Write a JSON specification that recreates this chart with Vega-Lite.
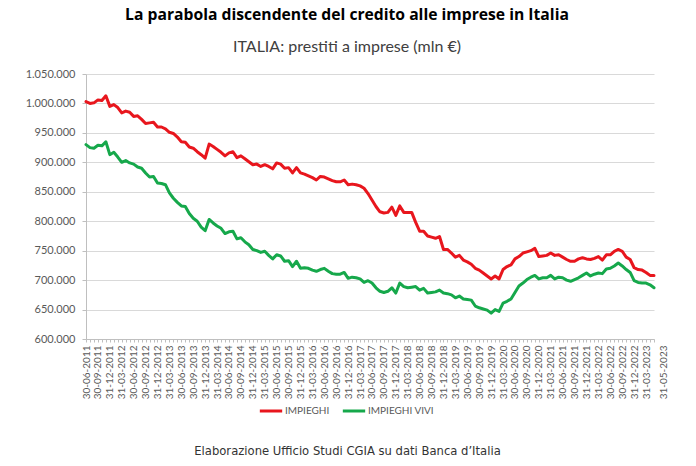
{
  "$schema": "https://vega.github.io/schema/vega-lite/v6.json",
  "width": 568,
  "height": 265,
  "autosize": {"type": "none"},
  "padding": {"left": 86, "top": 74, "right": 42, "bottom": 127},
  "background": "white",
  "config": {
    "view": {"stroke": null},
    "locale": {"number": {"decimal": ",", "thousands": ".", "grouping": [3], "currency": ["€", ""]}}
  },
  "title": {
    "text": "La parabola discendente del credito alle imprese in Italia",
    "subtitle": "ITALIA: prestiti a imprese (mln €)",
    "anchor": "middle",
    "frame": "group",
    "dx": -23,
    "offset": 12,
    "font": "Open Sans",
    "fontSize": 15.7,
    "fontWeight": "bold",
    "color": "#000000",
    "subtitleFont": "Lato",
    "subtitleFontSize": 16,
    "subtitleColor": "#404040",
    "subtitlePadding": 15
  },
  "data": {
    "values": [
      {"d": "30-06-2011", "IMPIEGHI": 1003000, "IMPIEGHI VIVI": 930000},
      {"d": "31-07-2011", "IMPIEGHI": 1000000, "IMPIEGHI VIVI": 925000},
      {"d": "31-08-2011", "IMPIEGHI": 1001000, "IMPIEGHI VIVI": 924000},
      {"d": "30-09-2011", "IMPIEGHI": 1006000, "IMPIEGHI VIVI": 929000},
      {"d": "31-10-2011", "IMPIEGHI": 1005000, "IMPIEGHI VIVI": 928000},
      {"d": "30-11-2011", "IMPIEGHI": 1013000, "IMPIEGHI VIVI": 935000},
      {"d": "31-12-2011", "IMPIEGHI": 995000, "IMPIEGHI VIVI": 913000},
      {"d": "31-01-2012", "IMPIEGHI": 998000, "IMPIEGHI VIVI": 917000},
      {"d": "29-02-2012", "IMPIEGHI": 993000, "IMPIEGHI VIVI": 909000},
      {"d": "31-03-2012", "IMPIEGHI": 984000, "IMPIEGHI VIVI": 900000},
      {"d": "30-04-2012", "IMPIEGHI": 987000, "IMPIEGHI VIVI": 903000},
      {"d": "31-05-2012", "IMPIEGHI": 985000, "IMPIEGHI VIVI": 899000},
      {"d": "30-06-2012", "IMPIEGHI": 978000, "IMPIEGHI VIVI": 897000},
      {"d": "31-07-2012", "IMPIEGHI": 979000, "IMPIEGHI VIVI": 892000},
      {"d": "31-08-2012", "IMPIEGHI": 973000, "IMPIEGHI VIVI": 890000},
      {"d": "30-09-2012", "IMPIEGHI": 966000, "IMPIEGHI VIVI": 882000},
      {"d": "31-10-2012", "IMPIEGHI": 967000, "IMPIEGHI VIVI": 875000},
      {"d": "30-11-2012", "IMPIEGHI": 968000, "IMPIEGHI VIVI": 876000},
      {"d": "31-12-2012", "IMPIEGHI": 960000, "IMPIEGHI VIVI": 865000},
      {"d": "31-01-2013", "IMPIEGHI": 960000, "IMPIEGHI VIVI": 864000},
      {"d": "28-02-2013", "IMPIEGHI": 957000, "IMPIEGHI VIVI": 862000},
      {"d": "31-03-2013", "IMPIEGHI": 951000, "IMPIEGHI VIVI": 848000},
      {"d": "30-04-2013", "IMPIEGHI": 949000, "IMPIEGHI VIVI": 839000},
      {"d": "31-05-2013", "IMPIEGHI": 943000, "IMPIEGHI VIVI": 832000},
      {"d": "30-06-2013", "IMPIEGHI": 935000, "IMPIEGHI VIVI": 826000},
      {"d": "31-07-2013", "IMPIEGHI": 934000, "IMPIEGHI VIVI": 825000},
      {"d": "31-08-2013", "IMPIEGHI": 926000, "IMPIEGHI VIVI": 813000},
      {"d": "30-09-2013", "IMPIEGHI": 924000, "IMPIEGHI VIVI": 805000},
      {"d": "31-10-2013", "IMPIEGHI": 918000, "IMPIEGHI VIVI": 800000},
      {"d": "30-11-2013", "IMPIEGHI": 913000, "IMPIEGHI VIVI": 790000},
      {"d": "31-12-2013", "IMPIEGHI": 907000, "IMPIEGHI VIVI": 784000},
      {"d": "31-01-2014", "IMPIEGHI": 931000, "IMPIEGHI VIVI": 803000},
      {"d": "28-02-2014", "IMPIEGHI": 927000, "IMPIEGHI VIVI": 797000},
      {"d": "31-03-2014", "IMPIEGHI": 922000, "IMPIEGHI VIVI": 792000},
      {"d": "30-04-2014", "IMPIEGHI": 917000, "IMPIEGHI VIVI": 788000},
      {"d": "31-05-2014", "IMPIEGHI": 911000, "IMPIEGHI VIVI": 779000},
      {"d": "30-06-2014", "IMPIEGHI": 916000, "IMPIEGHI VIVI": 782000},
      {"d": "31-07-2014", "IMPIEGHI": 918000, "IMPIEGHI VIVI": 783000},
      {"d": "31-08-2014", "IMPIEGHI": 908000, "IMPIEGHI VIVI": 770000},
      {"d": "30-09-2014", "IMPIEGHI": 911000, "IMPIEGHI VIVI": 772000},
      {"d": "31-10-2014", "IMPIEGHI": 906000, "IMPIEGHI VIVI": 765000},
      {"d": "30-11-2014", "IMPIEGHI": 901000, "IMPIEGHI VIVI": 760000},
      {"d": "31-12-2014", "IMPIEGHI": 896000, "IMPIEGHI VIVI": 752000},
      {"d": "31-01-2015", "IMPIEGHI": 897000, "IMPIEGHI VIVI": 750000},
      {"d": "28-02-2015", "IMPIEGHI": 893000, "IMPIEGHI VIVI": 747000},
      {"d": "31-03-2015", "IMPIEGHI": 896000, "IMPIEGHI VIVI": 749000},
      {"d": "30-04-2015", "IMPIEGHI": 893000, "IMPIEGHI VIVI": 742000},
      {"d": "31-05-2015", "IMPIEGHI": 889000, "IMPIEGHI VIVI": 736000},
      {"d": "30-06-2015", "IMPIEGHI": 899000, "IMPIEGHI VIVI": 743000},
      {"d": "31-07-2015", "IMPIEGHI": 897000, "IMPIEGHI VIVI": 741000},
      {"d": "31-08-2015", "IMPIEGHI": 890000, "IMPIEGHI VIVI": 732000},
      {"d": "30-09-2015", "IMPIEGHI": 891000, "IMPIEGHI VIVI": 733000},
      {"d": "31-10-2015", "IMPIEGHI": 882000, "IMPIEGHI VIVI": 723000},
      {"d": "30-11-2015", "IMPIEGHI": 891000, "IMPIEGHI VIVI": 732000},
      {"d": "31-12-2015", "IMPIEGHI": 882000, "IMPIEGHI VIVI": 720000},
      {"d": "31-01-2016", "IMPIEGHI": 880000, "IMPIEGHI VIVI": 721000},
      {"d": "29-02-2016", "IMPIEGHI": 877000, "IMPIEGHI VIVI": 720000},
      {"d": "31-03-2016", "IMPIEGHI": 874000, "IMPIEGHI VIVI": 717000},
      {"d": "30-04-2016", "IMPIEGHI": 870000, "IMPIEGHI VIVI": 715000},
      {"d": "31-05-2016", "IMPIEGHI": 876000, "IMPIEGHI VIVI": 718000},
      {"d": "30-06-2016", "IMPIEGHI": 875000, "IMPIEGHI VIVI": 720000},
      {"d": "31-07-2016", "IMPIEGHI": 872000, "IMPIEGHI VIVI": 715000},
      {"d": "31-08-2016", "IMPIEGHI": 869000, "IMPIEGHI VIVI": 711000},
      {"d": "30-09-2016", "IMPIEGHI": 867000, "IMPIEGHI VIVI": 710000},
      {"d": "31-10-2016", "IMPIEGHI": 867000, "IMPIEGHI VIVI": 710000},
      {"d": "30-11-2016", "IMPIEGHI": 870000, "IMPIEGHI VIVI": 713000},
      {"d": "31-12-2016", "IMPIEGHI": 862000, "IMPIEGHI VIVI": 703000},
      {"d": "31-01-2017", "IMPIEGHI": 863000, "IMPIEGHI VIVI": 705000},
      {"d": "28-02-2017", "IMPIEGHI": 862000, "IMPIEGHI VIVI": 704000},
      {"d": "31-03-2017", "IMPIEGHI": 860000, "IMPIEGHI VIVI": 702000},
      {"d": "30-04-2017", "IMPIEGHI": 856000, "IMPIEGHI VIVI": 696000},
      {"d": "31-05-2017", "IMPIEGHI": 847000, "IMPIEGHI VIVI": 699000},
      {"d": "30-06-2017", "IMPIEGHI": 836000, "IMPIEGHI VIVI": 695000},
      {"d": "31-07-2017", "IMPIEGHI": 825000, "IMPIEGHI VIVI": 687000},
      {"d": "31-08-2017", "IMPIEGHI": 816000, "IMPIEGHI VIVI": 681000},
      {"d": "30-09-2017", "IMPIEGHI": 814000, "IMPIEGHI VIVI": 679000},
      {"d": "31-10-2017", "IMPIEGHI": 815000, "IMPIEGHI VIVI": 681000},
      {"d": "30-11-2017", "IMPIEGHI": 824000, "IMPIEGHI VIVI": 687000},
      {"d": "31-12-2017", "IMPIEGHI": 810000, "IMPIEGHI VIVI": 678000},
      {"d": "31-01-2018", "IMPIEGHI": 826000, "IMPIEGHI VIVI": 695000},
      {"d": "28-02-2018", "IMPIEGHI": 815000, "IMPIEGHI VIVI": 689000},
      {"d": "31-03-2018", "IMPIEGHI": 815000, "IMPIEGHI VIVI": 687000},
      {"d": "30-04-2018", "IMPIEGHI": 815000, "IMPIEGHI VIVI": 688000},
      {"d": "31-05-2018", "IMPIEGHI": 798000, "IMPIEGHI VIVI": 689000},
      {"d": "30-06-2018", "IMPIEGHI": 783000, "IMPIEGHI VIVI": 683000},
      {"d": "31-07-2018", "IMPIEGHI": 783000, "IMPIEGHI VIVI": 686000},
      {"d": "31-08-2018", "IMPIEGHI": 775000, "IMPIEGHI VIVI": 678000},
      {"d": "30-09-2018", "IMPIEGHI": 773000, "IMPIEGHI VIVI": 679000},
      {"d": "31-10-2018", "IMPIEGHI": 771000, "IMPIEGHI VIVI": 680000},
      {"d": "30-11-2018", "IMPIEGHI": 774000, "IMPIEGHI VIVI": 683000},
      {"d": "31-12-2018", "IMPIEGHI": 752000, "IMPIEGHI VIVI": 678000},
      {"d": "31-01-2019", "IMPIEGHI": 752000, "IMPIEGHI VIVI": 677000},
      {"d": "28-02-2019", "IMPIEGHI": 746000, "IMPIEGHI VIVI": 675000},
      {"d": "31-03-2019", "IMPIEGHI": 739000, "IMPIEGHI VIVI": 670000},
      {"d": "30-04-2019", "IMPIEGHI": 742000, "IMPIEGHI VIVI": 673000},
      {"d": "31-05-2019", "IMPIEGHI": 734000, "IMPIEGHI VIVI": 668000},
      {"d": "30-06-2019", "IMPIEGHI": 731000, "IMPIEGHI VIVI": 667000},
      {"d": "31-07-2019", "IMPIEGHI": 727000, "IMPIEGHI VIVI": 666000},
      {"d": "31-08-2019", "IMPIEGHI": 720000, "IMPIEGHI VIVI": 656000},
      {"d": "30-09-2019", "IMPIEGHI": 717000, "IMPIEGHI VIVI": 653000},
      {"d": "31-10-2019", "IMPIEGHI": 712000, "IMPIEGHI VIVI": 651000},
      {"d": "30-11-2019", "IMPIEGHI": 707000, "IMPIEGHI VIVI": 649000},
      {"d": "31-12-2019", "IMPIEGHI": 702000, "IMPIEGHI VIVI": 644000},
      {"d": "31-01-2020", "IMPIEGHI": 707000, "IMPIEGHI VIVI": 650000},
      {"d": "29-02-2020", "IMPIEGHI": 702000, "IMPIEGHI VIVI": 647000},
      {"d": "31-03-2020", "IMPIEGHI": 718000, "IMPIEGHI VIVI": 661000},
      {"d": "30-04-2020", "IMPIEGHI": 723000, "IMPIEGHI VIVI": 664000},
      {"d": "31-05-2020", "IMPIEGHI": 726000, "IMPIEGHI VIVI": 668000},
      {"d": "30-06-2020", "IMPIEGHI": 736000, "IMPIEGHI VIVI": 679000},
      {"d": "31-07-2020", "IMPIEGHI": 740000, "IMPIEGHI VIVI": 690000},
      {"d": "31-08-2020", "IMPIEGHI": 746000, "IMPIEGHI VIVI": 695000},
      {"d": "30-09-2020", "IMPIEGHI": 748000, "IMPIEGHI VIVI": 701000},
      {"d": "31-10-2020", "IMPIEGHI": 750000, "IMPIEGHI VIVI": 705000},
      {"d": "30-11-2020", "IMPIEGHI": 754000, "IMPIEGHI VIVI": 708000},
      {"d": "31-12-2020", "IMPIEGHI": 740000, "IMPIEGHI VIVI": 702000},
      {"d": "31-01-2021", "IMPIEGHI": 741000, "IMPIEGHI VIVI": 704000},
      {"d": "28-02-2021", "IMPIEGHI": 742000, "IMPIEGHI VIVI": 704000},
      {"d": "31-03-2021", "IMPIEGHI": 746000, "IMPIEGHI VIVI": 708000},
      {"d": "30-04-2021", "IMPIEGHI": 742000, "IMPIEGHI VIVI": 702000},
      {"d": "31-05-2021", "IMPIEGHI": 743000, "IMPIEGHI VIVI": 705000},
      {"d": "30-06-2021", "IMPIEGHI": 739000, "IMPIEGHI VIVI": 704000},
      {"d": "31-07-2021", "IMPIEGHI": 735000, "IMPIEGHI VIVI": 700000},
      {"d": "31-08-2021", "IMPIEGHI": 732000, "IMPIEGHI VIVI": 698000},
      {"d": "30-09-2021", "IMPIEGHI": 732000, "IMPIEGHI VIVI": 701000},
      {"d": "31-10-2021", "IMPIEGHI": 736000, "IMPIEGHI VIVI": 704000},
      {"d": "30-11-2021", "IMPIEGHI": 738000, "IMPIEGHI VIVI": 708000},
      {"d": "31-12-2021", "IMPIEGHI": 736000, "IMPIEGHI VIVI": 712000},
      {"d": "31-01-2022", "IMPIEGHI": 735000, "IMPIEGHI VIVI": 707000},
      {"d": "28-02-2022", "IMPIEGHI": 737000, "IMPIEGHI VIVI": 710000},
      {"d": "31-03-2022", "IMPIEGHI": 740000, "IMPIEGHI VIVI": 712000},
      {"d": "30-04-2022", "IMPIEGHI": 734000, "IMPIEGHI VIVI": 711000},
      {"d": "31-05-2022", "IMPIEGHI": 743000, "IMPIEGHI VIVI": 719000},
      {"d": "30-06-2022", "IMPIEGHI": 743000, "IMPIEGHI VIVI": 720000},
      {"d": "31-07-2022", "IMPIEGHI": 749000, "IMPIEGHI VIVI": 724000},
      {"d": "31-08-2022", "IMPIEGHI": 752000, "IMPIEGHI VIVI": 729000},
      {"d": "30-09-2022", "IMPIEGHI": 749000, "IMPIEGHI VIVI": 724000},
      {"d": "31-10-2022", "IMPIEGHI": 739000, "IMPIEGHI VIVI": 718000},
      {"d": "30-11-2022", "IMPIEGHI": 735000, "IMPIEGHI VIVI": 713000},
      {"d": "31-12-2022", "IMPIEGHI": 721000, "IMPIEGHI VIVI": 699000},
      {"d": "31-01-2023", "IMPIEGHI": 718000, "IMPIEGHI VIVI": 696000},
      {"d": "28-02-2023", "IMPIEGHI": 717000, "IMPIEGHI VIVI": 695000},
      {"d": "31-03-2023", "IMPIEGHI": 713000, "IMPIEGHI VIVI": 695000},
      {"d": "30-04-2023", "IMPIEGHI": 708000, "IMPIEGHI VIVI": 692000},
      {"d": "31-05-2023", "IMPIEGHI": 708000, "IMPIEGHI VIVI": 687000}
    ]
  },
  "transform": [
    {"fold": ["IMPIEGHI", "IMPIEGHI VIVI"], "as": ["serie", "valore"]}
  ],
  "mark": {"type": "line", "strokeWidth": 3, "strokeJoin": "round", "strokeCap": "round"},
  "encoding": {
    "x": {
      "field": "d",
      "type": "ordinal",
      "sort": null,
      "scale": {"type": "point", "padding": 0},
      "axis": {
        "title": "Elaborazione Ufficio Studi CGIA su dati Banca d’Italia",
        "titleFont": "DejaVu Sans",
        "titleFontSize": 11.6,
        "titleFontWeight": "normal",
        "titleColor": "#333333",
        "titleX": 261,
        "titleY": 115,
        "titleAlign": "center",
        "titleBaseline": "alphabetic",
        "labelAngle": 270,
        "labelAlign": "right",
        "labelBaseline": "middle",
        "labelFont": "Lato",
        "labelFontSize": 10,
        "labelColor": "#595959",
        "labelPadding": 3,
        "labelOverlap": false,
        "labelOffset": {"condition": {"test": "datum.label == '31-05-2023'", "value": 9}, "value": 0},
        "labelExpr": "(indexof(['03','06','09','12'], substring(datum.label,3,5)) >= 0 || datum.label == '31-05-2023') ? datum.label : ''",
        "domainColor": "#bfbfbf",
        "tickColor": "#bfbfbf",
        "tickSize": 3,
        "grid": false
      }
    },
    "y": {
      "field": "valore",
      "type": "quantitative",
      "scale": {"domain": [600000, 1050000], "nice": false, "zero": false},
      "axis": {
        "title": null,
        "values": [600000, 650000, 700000, 750000, 800000, 850000, 900000, 950000, 1000000, 1050000],
        "format": ",d",
        "labelFont": "Lato",
        "labelFontSize": 11,
        "labelColor": "#595959",
        "labelPadding": 7,
        "tickSize": 4,
        "tickColor": "#bfbfbf",
        "domainColor": "#bfbfbf",
        "gridColor": "#d9d9d9",
        "gridWidth": 1
      }
    },
    "color": {
      "field": "serie",
      "type": "nominal",
      "scale": {"domain": ["IMPIEGHI", "IMPIEGHI VIVI"], "range": ["#e8161d", "#16a84b"]},
      "legend": {
        "title": null,
        "orient": "none",
        "legendX": 172,
        "legendY": 324,
        "direction": "horizontal",
        "symbolType": "stroke",
        "symbolSize": 500,
        "symbolStrokeWidth": 3,
        "labelFont": "Lato",
        "labelFontSize": 10,
        "labelColor": "#595959",
        "labelOffset": 1,
        "columnPadding": 6
      }
    }
  }
}
